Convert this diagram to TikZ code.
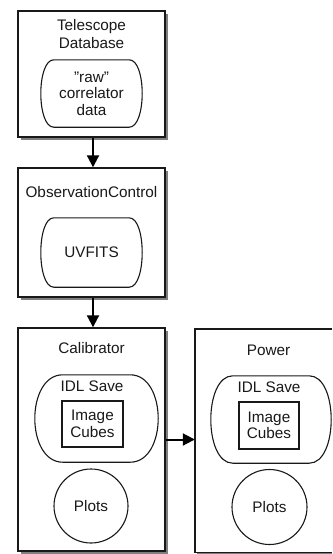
\documentclass[tikz,border=0pt]{standalone}
\usepackage{fontspec}
\setmainfont{Liberation Sans}
\usetikzlibrary{shadows,arrows.meta}
\newcommand{\bulgebox}[2]{%
  \draw[innerline] ([xshift=#2pt]#1.north west) -- ([xshift=-#2pt]#1.north east)
    .. controls ([xshift=#2pt/3]#1.north east) and ([xshift=#2pt/3]#1.south east) ..
    ([xshift=-#2pt]#1.south east) -- ([xshift=#2pt]#1.south west)
    .. controls ([xshift=-#2pt/3]#1.south west) and ([xshift=-#2pt/3]#1.north west) ..
    cycle;}
\begin{document}
\begin{tikzpicture}[x=1pt,y=-1pt,
  outer/.style={draw=black!90, line width=1.4pt, fill=white, minimum width=147pt,
    inner sep=0pt, drop shadow={shadow xshift=2.5pt, shadow yshift=-2.5pt, fill=black, opacity=0.5}},
  lbl/.style={font=\fontsize{15.3}{16.5}\selectfont, align=center, inner sep=0pt, text=black!90},
  innerline/.style={draw=black!90, line width=1.1pt},
  flow/.style={-{Triangle[length=12pt,width=12pt]}, line width=2pt, draw=black}
]
\useasboundingbox (0,0) rectangle (332,554);
\fill[white] (0,0) rectangle (332,554);

% outer boxes
\node[outer, minimum height=126pt] (db) at (91.5,74) {};
\node[outer, minimum height=129pt] (oc) at (91.5,232.5) {};
\node[outer, minimum height=223pt] (cal) at (91.5,439.5) {};
\node[inner sep=0pt, minimum width=137pt, minimum height=223pt] (pow) at (263.5,440.5) {};
\fill[black, opacity=0.5] ([shift={(2.5pt,-2.5pt)}]pow.north west) rectangle ([yshift=-2.5pt]pow.south east);
\fill[white] (pow.north west) rectangle (pow.south east);
\draw[draw=black!90, line width=1.4pt] (pow.north east) -- (pow.north west) -- (pow.south west) -- (pow.south east);

% titles
\node[lbl] (dbt) at (91.5,34) {Telescope\\[1.5pt]Database};
\node[lbl] (oct) at (91.5,192) {ObservationControl};
\node[lbl] (calt) at (91.5,348) {Calibrator};
\node[lbl] (powt) at (268.5,350) {Power};

% inner rounded shapes
\node[lbl, minimum width=101pt, minimum height=67pt] (raw) at (91.5,93.5) {\symbol{34}raw\symbol{34}\\correlator\\data};
\bulgebox{raw}{13}
\node[lbl, minimum width=101pt, minimum height=69pt] (uv) at (91.5,252.5) {UVFITS};
\bulgebox{uv}{13}
\node[lbl, minimum width=123pt, minimum height=87pt] (idl1) at (96.5,418.5) {};
\bulgebox{idl1}{28}
\node[lbl, minimum width=120pt, minimum height=87pt] (idl2) at (271,419.5) {};
\bulgebox{idl2}{22}
\node[lbl] (idl1t) at (92,386) {IDL Save};
\node[lbl] (idl2t) at (269,387) {IDL Save};

% image cubes
\node[lbl, draw=black!90, line width=1.1pt, minimum width=61pt, minimum height=46pt] (cube1) at (92.5,424) {Image\\Cubes};
\node[lbl, draw=black!90, line width=1.1pt, minimum width=60pt, minimum height=47pt] (cube2) at (269,425.5) {Image\\Cubes};

% plots
\node[lbl, circle, draw=black!90, line width=1.1pt, minimum size=74pt] (plot1) at (91,506) {Plots};
\node[lbl, circle, draw=black!90, line width=1.1pt, minimum size=75pt] (plot2) at (269.5,507) {Plots};

% arrows
\draw[flow] ([xshift=1.5pt]db.south) -- ([xshift=1.5pt]oc.north);
\draw[flow] ([xshift=1.5pt]oc.south) -- ([xshift=1.5pt]cal.north);
\draw[flow] (cal.east) -- (cal.east -| pow.west);
\end{tikzpicture}
\end{document}
